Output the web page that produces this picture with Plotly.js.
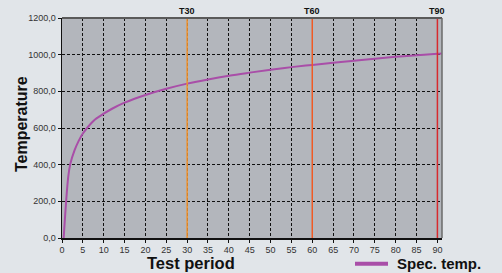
<!DOCTYPE html>
<html><head><meta charset="utf-8">
<script src="https://cdn.plot.ly/plotly-3.0.1.min.js"></script>
<style>html,body{margin:0;padding:0;background:#e1e5e9;}#c{width:502px;height:273px;}</style>
</head><body><div id="c"></div>
<script>
var timeMin = [0.4, 1.5, 2, 3, 4, 5, 6, 7, 8, 10, 12, 15, 20, 25, 30, 35, 40, 45, 50, 55, 60, 65, 70, 75, 80, 85, 90, 91];
var specTemp = [0, 335, 405, 478, 530, 570, 600, 626, 648, 678, 705, 738, 780, 814, 842, 865, 885, 902, 918, 932, 944, 956, 967, 978, 988, 997, 1005, 1007];
var seriesName = 'Spec. temp.';
var markTimes = [30, 60, 90];
var markLabels = ['T30', 'T60', 'T90'];
var markColors = ['#f0922e', '#f05a24', '#d82a2e'];
var xTicks = [0,5,10,15,20,25,30,35,40,45,50,55,60,65,70,75,80,85,90];
var yTicks = [0,200,400,600,800,1000,1200];
var xTitle = 'Test period';
var yTitle = 'Temperature';

var FONT = 'Liberation Sans, Arial, sans-serif';
var PH = 220.6, PW = 380;
var shapes = [];
var annotations = [];
markTimes.forEach(function(t, i){
  shapes.push({type:'line', xref:'x', yref:'paper', x0:t, x1:t, y0:0, y1:1, line:{color:markColors[i], width:1.5}, layer:'above'});
  annotations.push({xref:'x', yref:'paper', x:t, y:1, yanchor:'bottom', yshift:0, text:'<b>'+markLabels[i]+'</b>', showarrow:false, font:{family:FONT, size:9, color:'#111'}});
});
shapes.push({type:'line', xref:'paper', yref:'paper', x0:0, x1:1, y0:1, y1:1, line:{color:'#5a5a5a', width:2}});
shapes.push({type:'line', xref:'paper', yref:'paper', x0:1, x1:1, y0:0, y1:1, line:{color:'#6a6a6a', width:1.5}});
annotations.push({xref:'paper', yref:'paper', x:(191-62)/PW, y:(238.3-263)/PH, yanchor:'middle', text:'<b>'+xTitle+'</b>', showarrow:false, font:{family:FONT, size:16.5, color:'#111'}});
annotations.push({xref:'paper', yref:'paper', x:(21-62)/PW, y:(238.3-124)/PH, xanchor:'center', yanchor:'middle', textangle:-90, text:'<b>'+yTitle+'</b>', showarrow:false, font:{family:FONT, size:16, color:'#111'}});
// legend (drawn manually so it is not clipped)
var legY = (238.3-264)/PH;
shapes.push({type:'line', xref:'paper', yref:'paper', x0:(355-62)/PW, x1:(388-62)/PW, y0:legY, y1:legY, line:{color:'#a94ea8', width:4}});
annotations.push({xref:'paper', yref:'paper', x:(395-62)/PW, y:legY, xanchor:'left', yanchor:'middle', text:'<b>'+seriesName+'</b>', showarrow:false, font:{family:FONT, size:15, color:'#111'}});

var trace = {x: timeMin, y: specTemp, type:'scatter', mode:'lines', name:seriesName, line:{color:'#a94ea8', width:2, shape:'spline'}};

var layout = {
  width:502, height:273,
  margin:{l:62, r:60, t:18, b:35, autoexpand:false},
  paper_bgcolor:'#e1e5e9', plot_bgcolor:'#b3b6bc',
  font:{family:FONT, size:9, color:'#333'},
  xaxis:{range:[0,91.1], tickvals:xTicks, ticktext:xTicks.map(String), showgrid:true, gridcolor:'#111', griddash:'3px,2px', gridwidth:1,
    zeroline:false, showline:true, linecolor:'#111', linewidth:1.5, ticks:'outside', ticklen:3, tickcolor:'#111', tickfont:{size:9, color:'#333'}, automargin:false},
  yaxis:{range:[0,1200], tickvals:yTicks, ticktext:yTicks.map(function(v){return v.toFixed(1).replace('.',',');}), showgrid:true, gridcolor:'#111', griddash:'3px,2px', gridwidth:1,
    zeroline:false, showline:true, linecolor:'#111', linewidth:1.5, ticks:'outside', ticklen:3, tickcolor:'#111', tickfont:{size:9, color:'#333'}, automargin:false},
  showlegend:false,
  shapes:shapes, annotations:annotations
};
Plotly.newPlot('c', [trace], layout, {displayModeBar:false, staticPlot:true});
</script></body></html>
